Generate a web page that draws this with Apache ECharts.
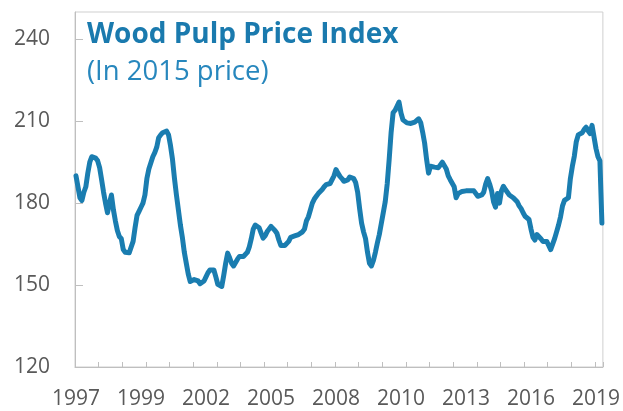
<!DOCTYPE html>
<html>
<head>
<meta charset="utf-8">
<script src="https://cdn.jsdelivr.net/npm/echarts@6/dist/echarts.min.js"></script>
<style>
  html, body { margin: 0; padding: 0; background: #ffffff; }
  #chart { width: 623px; height: 411px; }
</style>
</head>
<body>
<div id="chart"></div>
<script>
// monthly wood pulp price index (2015 prices)
const pulp1997 = [190, 186, 182, 181, 184, 186, 191, 195, 197, 197, 196.5, 195.5];
const pulp1998 = [193, 188.6, 184, 180, 176.5, 180, 183, 177.6, 173.5, 170, 167.8, 167];
const pulp1999 = [163, 162, 161.8, 161.8, 162, 166, 171, 175.5, 177, 178.5, 180, 183];
const pulp2000 = [189, 192.5, 193, 197, 198.5, 200.5, 204, 205, 205.8, 206, 206.4, 205];
const pulp2001 = [201, 196, 189, 183, 177.5, 172, 167.5, 162, 158, 154, 151.3, 151];
const pulp2002 = [152, 152.6, 151.5, 150.5, 150.3, 151.5, 153, 154.5, 155.5, 156.2, 155.5, 153];
const pulp2003 = [150.3, 149.8, 149.5, 153.5, 158, 161.7, 160, 158, 157, 157.5, 159.5, 160.5];
const pulp2004 = [160.5, 160.5, 160.5, 162, 164, 167, 170.5, 172, 171.5, 171, 169, 167.2];
const pulp2005 = [168, 169.5, 170.5, 171.5, 171, 170, 169, 166.5, 164.5, 164.2, 164.5, 164.5];
const pulp2006 = [166, 167.5, 168, 168, 168.2, 168.5, 169, 169.5, 170.5, 173.5, 175, 177.5];
const pulp2007 = [180, 181.5, 182.5, 183.5, 184, 185, 186, 186.8, 187, 187.2, 187.4, 190];
const pulp2008 = [192.3, 191, 189.8, 189, 188, 187.5, 188.5, 189.6, 189.2, 189, 187.5, 184];
const pulp2009 = [178, 172.7, 169.5, 167, 162, 158, 157, 159, 162, 165.4, 168.5, 172.5];
const pulp2010 = [176.5, 180.5, 187, 196, 206, 213.1, 214, 215.5, 217, 213, 210.5, 209.8];
const pulp2011 = [209.4, 209, 209.2, 209.4, 209.7, 210.2, 210.9, 209.5, 206, 202, 196, 191];
const pulp2012 = [193.5, 194, 193.2, 192.9, 193, 193, 195, 195.5, 192.5, 190, 188.6, 188];
const pulp2013 = [186, 182, 183.5, 184, 184.3, 184.5, 184.5, 184.8, 184.5, 185, 184.5, 184.7];
const pulp2014 = [182.5, 182.8, 183, 184, 187, 189, 187, 184.5, 180.5, 178.5, 183.5, 180];
const pulp2015 = [184.5, 186.2, 185, 184, 183, 182.5, 182, 181.5, 180.5, 179, 178, 176.5];
const pulp2016 = [175.2, 174.5, 174, 170.5, 167.5, 166.5, 168.5, 168.5, 167, 166, 166.5, 166];
const pulp2017 = [164.5, 163, 165, 167, 169.5, 172, 175, 179, 181, 181.5, 182, 189];
const pulp2018 = [193.5, 197.2, 202.5, 205, 205.3, 205.8, 207, 207.8, 206.5, 205.5, 208.5, 208.8];
const pulp2019 = [200, 197, 195.5, 172.7];

const years = [1997, 1998, 1999, 2000, 2001, 2002, 2003, 2004, 2005, 2006, 2007, 2008,
  2009, 2010, 2011, 2012, 2013, 2014, 2015, 2016, 2017, 2018, 2019];
const yearly = [pulp1997, pulp1998, pulp1999, pulp2000, pulp2001, pulp2002, pulp2003, pulp2004,
  pulp2005, pulp2006, pulp2007, pulp2008, pulp2009, pulp2010, pulp2011, pulp2012, pulp2013,
  pulp2014, pulp2015, pulp2016, pulp2017, pulp2018, pulp2019];

const yTicks = [120, 150, 180, 210, 240];

const months = [];
const values = [];
years.forEach((yr, k) => {
  yearly[k].forEach((v, m) => {
    months.push(yr + "-" + String(m + 1).padStart(2, "0"));
    values.push(v);
  });
});

const axisGray = "#bfbfbf";
const labelGray = "#595959";
const font = "'Open Sans', 'Segoe UI', sans-serif";

const chart = echarts.init(document.getElementById("chart"));
chart.setOption({
  animation: false,
  title: {
    text: "Wood Pulp Price Index",
    subtext: "(In 2015 price)",
    left: 82,
    top: 16,
    itemGap: 9,
    textStyle: { color: "#1a7aae", fontSize: 28, fontWeight: "bold", fontFamily: font },
    subtextStyle: { color: "#2787bd", fontSize: 27.5, fontWeight: "normal", fontFamily: font },
  },
  grid: {
    left: 75,
    right: 20,
    top: 12,
    bottom: 44,
    containLabel: false,
    show: true,
    borderColor: "#cfcfcf",
    borderWidth: 1,
  },
  xAxis: {
    type: "category",
    data: months,
    boundaryGap: true,
    axisLine: { lineStyle: { color: axisGray, width: 1 } },
    axisTick: { show: true, inside: true, length: 5, interval: 11, lineStyle: { color: axisGray } },
    axisLabel: {
      interval: 32,
      margin: 22,
      color: labelGray,
      fontSize: 21,
      fontFamily: font,
      formatter: (v) => v.slice(0, 4),
    },
    splitLine: { show: false },
  },
  yAxis: {
    type: "value",
    min: yTicks[0],
    max: 250,
    interval: 30,
    axisLine: { show: true, lineStyle: { color: axisGray, width: 1 } },
    axisTick: { show: true, inside: true, length: 8, lineStyle: { color: axisGray } },
    axisLabel: {
      showMaxLabel: false,
      margin: 25,
      color: labelGray,
      fontSize: 21,
      fontFamily: font,
      formatter: (v) => (yTicks.includes(v) ? String(v) : ""),
    },
    splitLine: { show: false },
  },
  series: [
    {
      type: "line",
      data: values,
      showSymbol: false,
      smooth: false,
      lineStyle: { color: "#1a7db0", width: 5, join: "round", cap: "round" },
    },
  ],
});
</script>
</body>
</html>
